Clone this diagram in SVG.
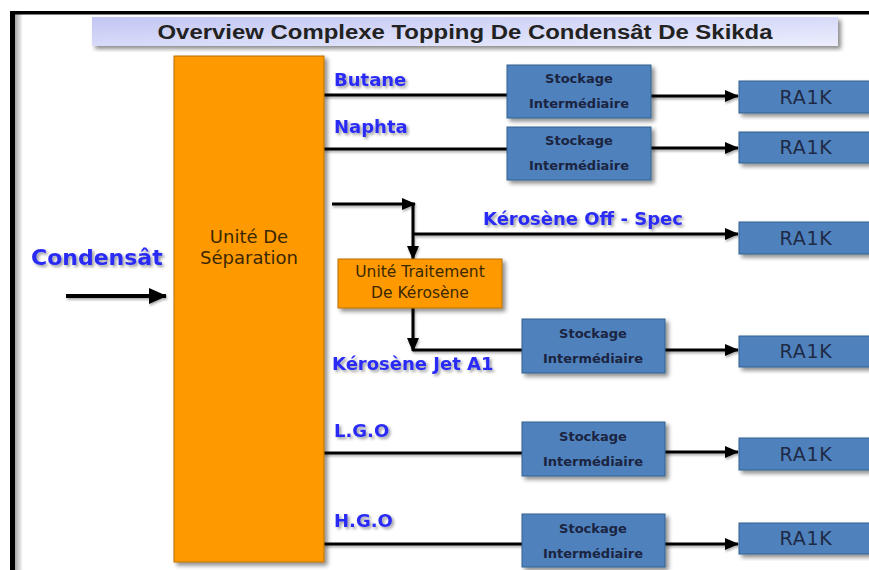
<svg xmlns="http://www.w3.org/2000/svg" width="869" height="570" viewBox="0 0 869 570">
  <defs>
    <style>
      .lbl { font-family: "DejaVu Sans", Verdana, sans-serif; font-weight: bold; font-size: 18px; fill: #2b2bf5; filter: url(#txtShadow); }
      .orange { fill: #ff9900; stroke: #b86e00; stroke-width: 1; filter: url(#boxShadow); }
      .blue { fill: #4f81bd; stroke: #35608f; stroke-width: 1; filter: url(#boxShadow); }
      .otxt { font-family: "DejaVu Sans", Verdana, sans-serif; fill: #3a2800; text-anchor: middle; }
      .stk { font-family: "DejaVu Sans", Verdana, sans-serif; font-weight: bold; font-size: 13px; fill: #1b2440; text-anchor: middle; }
      .ra { font-family: "DejaVu Sans", Verdana, sans-serif; font-size: 19px; fill: #1e2a45; text-anchor: middle; letter-spacing: 0.8px; }
      .wire { fill: none; stroke: #000; stroke-width: 3; }
      .arr { marker-end: url(#head); }
    </style>
    <linearGradient id="banner" x1="0" y1="0" x2="1" y2="1">
      <stop offset="0" stop-color="#c2c6f3"/>
      <stop offset="1" stop-color="#eceefd"/>
    </linearGradient>
    <linearGradient id="edgeShade" x1="0" y1="0" x2="1" y2="0">
      <stop offset="0" stop-color="#000" stop-opacity="0.35"/>
      <stop offset="1" stop-color="#000" stop-opacity="0"/>
    </linearGradient>
    <filter id="boxShadow" x="-10%" y="-10%" width="130%" height="130%">
      <feDropShadow dx="3" dy="3" stdDeviation="2" flood-color="#000" flood-opacity="0.45"/>
    </filter>
    <filter id="txtShadow" x="-10%" y="-20%" width="130%" height="160%">
      <feDropShadow dx="2" dy="2" stdDeviation="1.5" flood-color="#000" flood-opacity="0.4"/>
    </filter>
    <!-- user-space region so zero-height lines still get their shadow -->
    <filter id="lineShadow" filterUnits="userSpaceOnUse" x="0" y="0" width="869" height="570">
      <feDropShadow dx="1" dy="2" stdDeviation="1" flood-color="#000" flood-opacity="0.3"/>
    </filter>
    <marker id="head" markerUnits="userSpaceOnUse" markerWidth="14" markerHeight="12" refX="13" refY="6" orient="auto">
      <path d="M0,0 L14,6 L0,12 z" fill="#000"/>
    </marker>
    <marker id="headBig" markerUnits="userSpaceOnUse" markerWidth="18" markerHeight="16" refX="17" refY="8" orient="auto">
      <path d="M0,0 L18,8 L0,16 z" fill="#000"/>
    </marker>
  </defs>

  <rect width="869" height="570" fill="#ffffff"/>

  <!-- frame -->
  <g id="frame">
    <rect x="15" y="14" width="8" height="556" fill="url(#edgeShade)"/>
    <rect x="10" y="11" width="859" height="3.5" fill="#000"/>
    <rect x="10" y="11" width="5" height="559" fill="#000"/>
  </g>

  <!-- title banner -->
  <g id="title">
    <rect x="92" y="17" width="746" height="29" fill="url(#banner)" filter="url(#boxShadow)"/>
    <text x="465" y="39" text-anchor="middle" font-family="Liberation Sans, Arial, sans-serif" font-weight="bold" font-size="20" fill="#222" textLength="615" lengthAdjust="spacingAndGlyphs">Overview Complexe Topping De Condensât De Skikda</text>
  </g>

  <!-- connectors -->
  <g id="connectors" filter="url(#lineShadow)">
    <line class="wire" x1="66" y1="296" x2="166" y2="296" style="stroke-width:4" marker-end="url(#headBig)"/>
    <line class="wire" x1="324" y1="95" x2="507" y2="95"/>
    <line class="wire arr" x1="651" y1="96" x2="738" y2="96"/>
    <line class="wire" x1="324" y1="149" x2="507" y2="149"/>
    <line class="wire arr" x1="651" y1="148" x2="738" y2="148"/>
    <line class="wire arr" x1="332" y1="204" x2="415" y2="204"/>
    <line class="wire arr" x1="413" y1="203" x2="413" y2="259"/>
    <line class="wire arr" x1="414" y1="234" x2="738" y2="234"/>
    <line class="wire arr" x1="413" y1="308" x2="413" y2="351"/>
    <line class="wire" x1="413" y1="350" x2="522" y2="350"/>
    <line class="wire arr" x1="665" y1="350" x2="738" y2="350"/>
    <line class="wire" x1="324" y1="453" x2="522" y2="453"/>
    <line class="wire arr" x1="665" y1="452" x2="738" y2="452"/>
    <line class="wire" x1="324" y1="544" x2="522" y2="544"/>
    <line class="wire arr" x1="665" y1="544" x2="738" y2="544"/>
  </g>

  <!-- stream labels -->
  <g id="labels">
    <text class="lbl" x="31" y="265" style="font-size:22px">Condensât</text>
    <text class="lbl" x="334" y="86">Butane</text>
    <text class="lbl" x="334" y="133">Naphta</text>
    <text class="lbl" x="483" y="225">Kérosène Off - Spec</text>
    <text class="lbl" x="332" y="370">Kérosène Jet A1</text>
    <text class="lbl" x="334" y="437">L.G.O</text>
    <text class="lbl" x="334" y="527">H.G.O</text>
  </g>

  <!-- separation unit -->
  <g id="unite-separation">
    <rect class="orange" x="174" y="56" width="150" height="506"/>
    <text class="otxt" x="249" y="243" font-size="18">Unité De</text>
    <text class="otxt" x="249" y="264" font-size="18">Séparation</text>
  </g>

  <!-- kerosene treatment unit -->
  <g id="unite-traitement">
    <rect class="orange" x="338" y="259" width="164" height="49"/>
    <text class="otxt" x="420" y="277" font-size="15.5">Unité Traitement</text>
    <text class="otxt" x="420" y="298" font-size="15.5">De Kérosène</text>
  </g>

  <!-- intermediate storage -->
  <g id="stockage-butane">
    <rect class="blue" x="507" y="65" width="144" height="53"/>
    <text class="stk" x="579" y="83">Stockage</text>
    <text class="stk" x="579" y="108">Intermédiaire</text>
  </g>
  <g id="stockage-naphta">
    <rect class="blue" x="507" y="127" width="144" height="53"/>
    <text class="stk" x="579" y="145">Stockage</text>
    <text class="stk" x="579" y="170">Intermédiaire</text>
  </g>
  <g id="stockage-jet">
    <rect class="blue" x="522" y="319" width="143" height="54"/>
    <text class="stk" x="593" y="338">Stockage</text>
    <text class="stk" x="593" y="363">Intermédiaire</text>
  </g>
  <g id="stockage-lgo">
    <rect class="blue" x="522" y="422" width="143" height="54"/>
    <text class="stk" x="593" y="441">Stockage</text>
    <text class="stk" x="593" y="466">Intermédiaire</text>
  </g>
  <g id="stockage-hgo">
    <rect class="blue" x="522" y="514" width="143" height="53"/>
    <text class="stk" x="593" y="533">Stockage</text>
    <text class="stk" x="593" y="558">Intermédiaire</text>
  </g>

  <!-- RA1K destinations -->
  <g id="ra1k-1">
    <rect class="blue" x="739" y="81" width="134" height="32"/>
    <text class="ra" x="806" y="104">RA1K</text>
  </g>
  <g id="ra1k-2">
    <rect class="blue" x="739" y="132" width="134" height="31"/>
    <text class="ra" x="806" y="154">RA1K</text>
  </g>
  <g id="ra1k-3">
    <rect class="blue" x="739" y="222" width="134" height="32"/>
    <text class="ra" x="806" y="245">RA1K</text>
  </g>
  <g id="ra1k-4">
    <rect class="blue" x="739" y="336" width="134" height="31"/>
    <text class="ra" x="806" y="358">RA1K</text>
  </g>
  <g id="ra1k-5">
    <rect class="blue" x="739" y="438" width="134" height="32"/>
    <text class="ra" x="806" y="461">RA1K</text>
  </g>
  <g id="ra1k-6">
    <rect class="blue" x="739" y="523" width="134" height="31"/>
    <text class="ra" x="806" y="545">RA1K</text>
  </g>
</svg>
